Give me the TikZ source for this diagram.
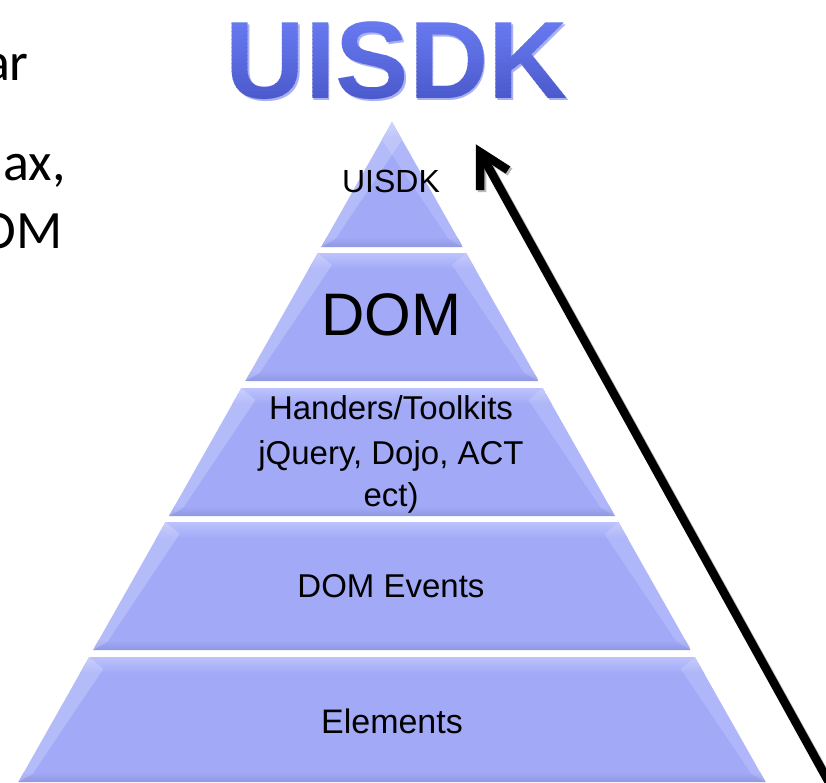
\documentclass[tikz,border=0pt]{standalone}
\usepackage{fontspec}
\setmainfont{Liberation Sans}
\newfontfamily\calfont{Carlito}
\usetikzlibrary{calc}
\definecolor{layerbase}{HTML}{A2AAF8}
\definecolor{layerlight}{HTML}{BCC3FC}
\definecolor{layerdark}{HTML}{8F98E2}
\definecolor{titletop}{HTML}{6B7BF2}
\definecolor{titlebot}{HTML}{4A5ACC}
\definecolor{titleshadow}{HTML}{A9B1F0}
\newcommand{\pyrlayer}[2]{%
  \pgfmathsetmacro\pyTL{392-0.566*(#1-122)}%
  \pgfmathsetmacro\pyTR{392+0.566*(#1-122)}%
  \pgfmathsetmacro\pyBL{392-0.566*(#2-122)}%
  \pgfmathsetmacro\pyBR{392+0.566*(#2-122)}%
  \begin{scope}
    \clip (\pyTL,#1) -- (\pyTR,#1) -- (\pyBR,#2) -- (\pyBL,#2) -- cycle;
    \fill[layerbase] (\pyBL,#1) rectangle (\pyBR,#2);
    \shade[top color=layerlight, bottom color=layerbase] (\pyBL,#1) rectangle (\pyBR,#1+16);
    \shade[top color=layerbase, bottom color=layerdark] (\pyBL,#2-10) rectangle (\pyBR,#2);
    \fill[white, opacity=0.2] (\pyTL,#1) -- (\pyTL+14,#1+12) -- (\pyBL+14,#2-8) -- (\pyBL,#2) -- cycle;
    \fill[white, opacity=0.15] (\pyTR,#1) -- (\pyTR-14,#1+12) -- (\pyBR-14,#2-8) -- (\pyBR,#2) -- cycle;
  \end{scope}}
\begin{document}
\begin{tikzpicture}[x=1pt,y=-1pt,
  lbl/.style={inner sep=0pt, anchor=base, text=black},
  titlefont/.style={inner sep=0pt, anchor=base, font=\bfseries\fontsize{110}{120}\selectfont},
  sidetext/.style={inner sep=0pt, anchor=base east, text=black, font=\calfont\fontsize{54}{60}\selectfont},
  arrowline/.style={line width=8.5pt, black, line join=miter},
  arrowshadow/.style={line width=8.5pt, gray!55, line join=miter}]
\useasboundingbox (0,0) rectangle (826,782);
\fill[white] (0,0) rectangle (826,782);

% left cropped text
\node[sidetext] (t1) at (29,80) {ar};
\node[sidetext] (t2) at (66,180) {ax,};
\node[sidetext] (t3) at (63,248) {OM};

% title with vertical gradient
\node[titlefont, text=titleshadow] (titlesh) at (398.5,100.5) {UISDK};
\foreach \i in {0,...,21} {
  \pgfmathtruncatemacro\mixp{100-\i*100/21}
  \begin{scope}
    \clip (150,15+\i*4) rectangle (650,19.6+\i*4);
    \node[titlefont, text=titletop!\mixp!titlebot] (title\i) at (397,98) {UISDK};
  \end{scope}
}

% pyramid layers
\pyrlayer{122}{247}
\pyrlayer{253}{381}
\pyrlayer{388}{516}
\pyrlayer{522}{650}
\pyrlayer{657}{782}

% labels
\node[lbl, font=\fontsize{32}{36}\selectfont] (l1) at (391,192) {UISDK};
\node[lbl, font=\fontsize{60}{66}\selectfont] (l2) at (391,335) {DOM};
\node[lbl, font=\fontsize{33}{38}\selectfont] (l3a) at (391,419) {Handers/Toolkits};
\node[lbl, font=\fontsize{33}{38}\selectfont] (l3b) at (391,464) {jQuery, Dojo, ACT};
\node[lbl, font=\fontsize{33}{38}\selectfont] (l3c) at (391,506) {ect)};
\node[lbl, font=\fontsize{33}{38}\selectfont] (l4) at (391,597) {DOM Events};
\node[lbl, font=\fontsize{34}{38}\selectfont] (l5) at (392,733) {Elements};

% arrow
\coordinate (tail) at (842,806);
\coordinate (tip) at (480,152);
\coordinate (barbL) at (480,190);
\coordinate (barbR) at (508,170);
\draw[arrowshadow] ($(tail)+(2,2)$) -- ($(tip)+(2,2)$);
\draw[arrowshadow] ($(barbL)+(2,2)$) -- ($(tip)+(2,2)$) -- ($(barbR)+(2,2)$);
\draw[arrowline] (tail) -- (tip);
\draw[arrowline] (barbL) -- (tip) -- (barbR);
\end{tikzpicture}
\end{document}
